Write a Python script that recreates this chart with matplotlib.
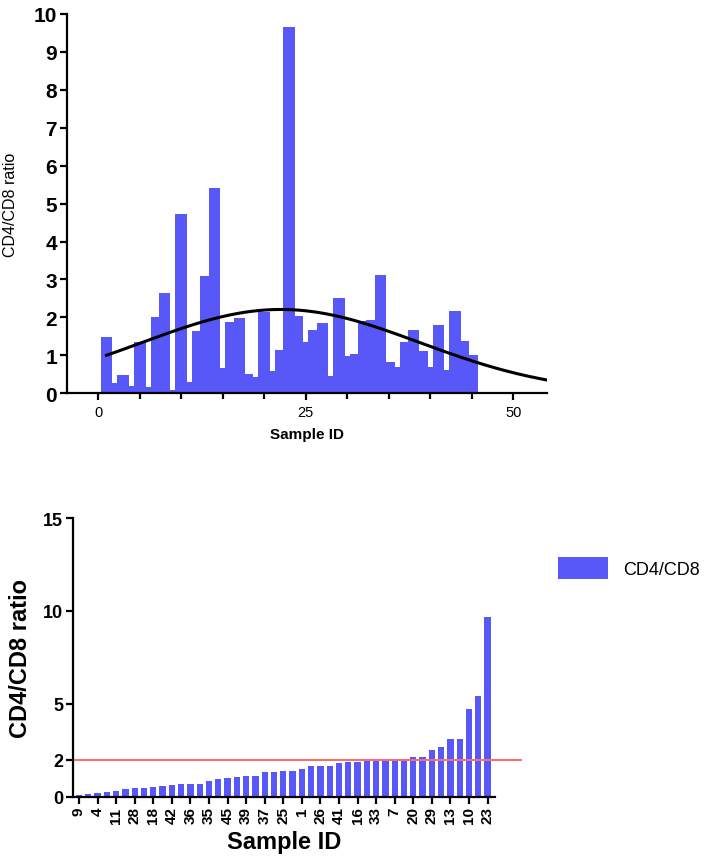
import matplotlib.pyplot as plt
import numpy as np
from matplotlib.ticker import MultipleLocator

plt.rcParams['font.family'] = ['Liberation Sans', 'DejaVu Sans']

# CD4/CD8 ratio per sample, samples 1..45
sample_ids = np.arange(1, 46)
ratios = [1.48, 0.26, 0.48, 0.18, 1.35, 0.16, 2.02, 2.65, 0.09, 4.73,
          0.31, 1.65, 3.08, 5.41, 0.67, 1.87, 1.98, 0.50, 0.43, 2.14,
          0.60, 1.13, 9.65, 2.04, 1.36, 1.66, 1.85, 0.45, 2.51, 0.97,
          1.04, 1.90, 1.92, 3.12, 0.83, 0.69, 1.34, 1.67, 1.11, 0.70,
          1.80, 0.61, 2.16, 1.37, 1.01]

# gaussian fit drawn over the top panel
fit_amp, fit_mean, fit_sd = 2.21, 22.0, 16.7
threshold = 2

bar_col = "#5858F8"

fig = plt.figure(figsize=(7.05, 8.62), dpi=100)

# ---- top panel
ax1 = fig.add_axes([0.0946, 0.5426, 0.6817, 0.44])
ax1.bar(sample_ids, ratios, width=1.4, color=bar_col, linewidth=0)
xs = np.linspace(1, 54, 200)
ax1.plot(xs, fit_amp * np.exp(-(xs - fit_mean) ** 2 / (2 * fit_sd ** 2)),
         color="black", lw=2.2)
ax1.set_xlim(-3.8, 54.1)
ax1.set_ylim(0, 10)
ax1.set_yticks(range(0, 11))
ax1.set_xticks([0, 25, 50])
ax1.xaxis.set_minor_locator(MultipleLocator(5))
for lab in ax1.get_yticklabels():
    lab.set_fontweight("bold")
ax1.tick_params(axis="y", labelsize=15, width=1.6, length=5, pad=2)
ax1.tick_params(axis="x", which="major", labelsize=10.5, width=1.6, length=5)
ax1.tick_params(axis="x", which="minor", width=1.6, length=4)
ax1.set_ylabel("CD4/CD8 ratio", fontsize=11.5, labelpad=11)
ax1.set_xlabel("Sample ID", fontsize=11, fontweight="bold", labelpad=6)
for s in ["top", "right"]:
    ax1.spines[s].set_visible(False)
for s in ["left", "bottom"]:
    ax1.spines[s].set_linewidth(1.6)

# ---- bottom panel, sorted
order = np.argsort(ratios, kind="stable")
sorted_vals = np.array(ratios)[order]
sorted_ids = sample_ids[order]
pos = np.arange(len(sorted_vals))

ax2 = fig.add_axes([0.1031, 0.0746, 0.599, 0.3233])
ax2.bar(pos, sorted_vals, width=0.68, color=bar_col, linewidth=0, label="CD4/CD8")
ax2.plot([-0.68, 47.6], [threshold, threshold], color="#FF6A6A", lw=1.4, clip_on=False)
ax2.set_xlim(-0.68, 44.8)
ax2.set_ylim(0, 15)
ax2.set_yticks([0, 2, 5, 10, 15])
ax2.set_xticks(pos[::2])
ax2.set_xticklabels([str(i) for i in sorted_ids[::2]], rotation=90,
                    fontsize=11, fontweight="bold")
for lab in ax2.get_yticklabels():
    lab.set_fontweight("bold")
ax2.tick_params(axis="y", labelsize=13, width=1.6, length=5, pad=2)
ax2.tick_params(axis="x", width=1.6, length=5, pad=2)
ax2.set_ylabel("CD4/CD8 ratio", fontsize=17, fontweight="bold", labelpad=8)
ax2.set_xlabel("Sample ID", fontsize=17, fontweight="bold", labelpad=5)
for s in ["top", "right"]:
    ax2.spines[s].set_visible(False)
for s in ["left", "bottom"]:
    ax2.spines[s].set_linewidth(1.6)

fig.legend(loc="upper left", bbox_to_anchor=(0.768, 0.372), frameon=False,
           fontsize=13, handlelength=2.8, handleheight=1.5)

fig.savefig("out.png", dpi=100)
